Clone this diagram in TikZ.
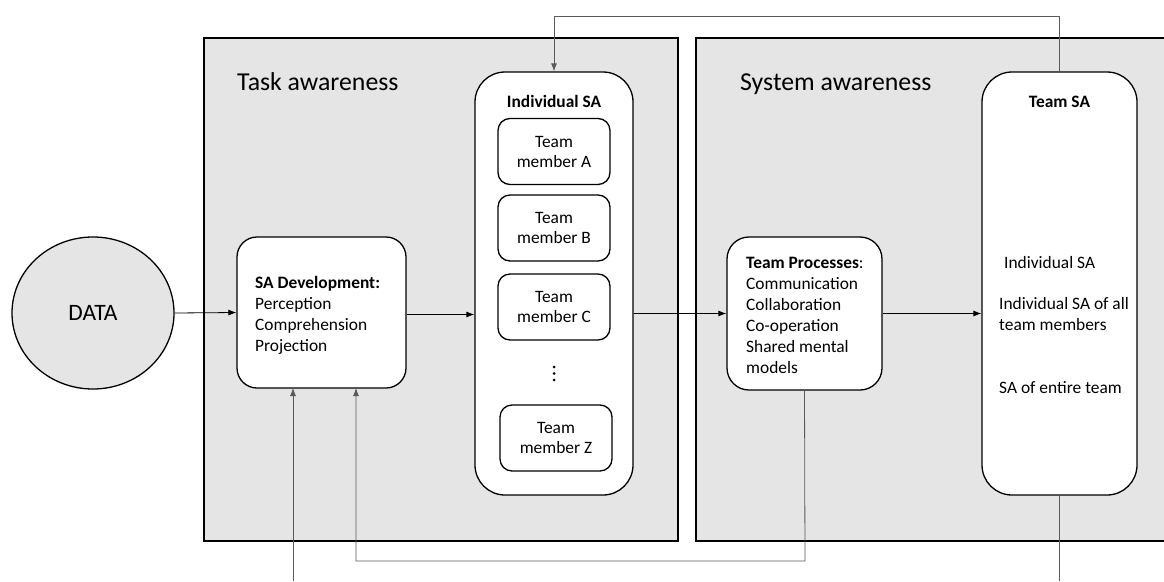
\documentclass[tikz,border=0pt]{standalone}
\usepackage{fontspec}
\setmainfont{Carlito}
\usetikzlibrary{arrows.meta,shapes.geometric}
\definecolor{panelgray}{HTML}{E5E5E5}
\definecolor{fbgray}{HTML}{5A5A5A}
\begin{document}
\begin{tikzpicture}[x=1pt,y=-1pt,
  panel/.style={draw=black, line width=1.6pt, fill=panelgray, inner sep=0, anchor=north west},
  box/.style={draw=black, line width=1.3pt, fill=white, inner sep=0},
  member/.style={box, rounded corners=12pt, minimum width=112pt, minimum height=66pt, align=center, font=\fontsize{17.4}{20}\selectfont},
  conn/.style={draw=black, line width=0.8pt, -{Latex[length=8pt,width=6pt]}},
  fb/.style={draw=fbgray, line width=0.8pt},
  fbarrow/.style={fb, -{Latex[length=8pt,width=6pt]}},
  txt/.style={font=\fontsize{17.4}{21}\selectfont, align=left, inner sep=0, anchor=base west},
  ttl/.style={font=\fontsize{25.8}{30}\selectfont, inner sep=0, anchor=base west}]
\clip (0,0) rectangle (1164,581);
\fill[white] (0,0) rectangle (1164,581);
% panels
\node[panel, minimum width=474pt, minimum height=503pt] (taskp) at (203,37) {};
\node[panel, minimum width=490pt, minimum height=503pt] (sysp) at (695,37) {};
\node[ttl] (tasklbl) at (237,90) {Task awareness};
\node[ttl] (syslbl) at (740,90) {System awareness};
% data
\node[draw=black, line width=1.3pt, fill=panelgray, ellipse, minimum width=162pt, minimum height=152pt, inner sep=0, font=\fontsize{23.5}{28}\selectfont] (data) at (93,313) {DATA};
% SA development
\node[box, rounded corners=20pt, minimum width=169pt, minimum height=151pt] (sadev) at (321.5,312.5) {};
\node[txt] (sadevtxt) at (255,351) {\textbf{SA Development:}\\Perception\\Comprehension\\Projection};
% Individual SA
\node[box, rounded corners=30pt, minimum width=158pt, minimum height=423pt] (indsa) at (554,283.5) {};
\node[font=\bfseries\fontsize{17.4}{21}\selectfont, inner sep=0, anchor=base] (indsalbl) at (554,107) {Individual SA};
\node[member] (ma) at (554,151.5) {Team\\member A};
\node[member] (mb) at (554,228) {Team\\member B};
\node[member] (mc) at (554,307) {Team\\member C};
\fill (554,367) circle (1.5pt) (554,373.5) circle (1.5pt) (554,380) circle (1.5pt);
\node[member] (mz) at (556,438) {Team\\member Z};
% Team processes
\node[box, rounded corners=22pt, minimum width=155pt, minimum height=153pt] (tp) at (804.5,313.5) {};
\node[txt] (tptxt) at (746,373) {\textbf{Team Processes}:\\Communication\\Collaboration\\Co-operation\\Shared mental\\models};
% Team SA
\node[box, rounded corners=30pt, minimum width=155pt, minimum height=423pt] (teamsa) at (1059.5,283.5) {};
\node[font=\bfseries\fontsize{17.4}{21}\selectfont, inner sep=0, anchor=base] (teamsalbl) at (1059.5,107) {Team SA};
\node[txt] (tsa1) at (1004,268) {Individual SA};
\node[txt] (tsa2) at (999,330) {Individual SA of all\\team members};
\node[txt] (tsa3) at (999,393) {SA of entire team};
% main flow
\draw[conn] (data.east) -- (sadev.west);
\draw[conn] ([yshift=-2pt]sadev.east) -- ([yshift=-2pt]sadev.east -| indsa.west);
\draw[conn] (indsa.east |- tp.west) -- (tp.west);
\draw[conn] (tp.east) -- (tp.east -| teamsa.west);
% feedback
\coordinate (top) at (1059.5,16);
\draw[fbarrow] (teamsa.north) -- (top) -| (indsa.north);
\coordinate (sdin2) at (356,388);
\coordinate (bottom) at (805,561);
\draw[fbarrow] (tp.south) -- (bottom) -| (sdin2);
\coordinate (in1) at (293,581);
\coordinate (sdin1) at (293,388);
\draw[fbarrow] (in1) -- (sdin1);
\coordinate (out1) at (1059.5,581);
\draw[fb] (teamsa.south) -- (out1);
\end{tikzpicture}
\end{document}
